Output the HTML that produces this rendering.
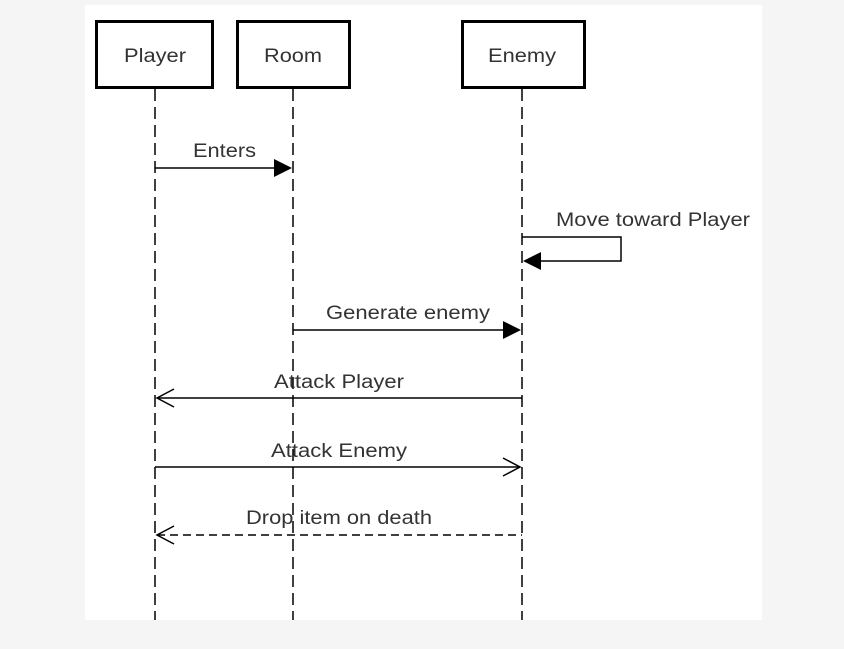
<!DOCTYPE html>
<html><head><style>body{margin:0;background:#f5f5f5;width:844px;height:649px;overflow:hidden}svg{display:block}</style></head><body>
<svg width="844" height="649" xmlns="http://www.w3.org/2000/svg" font-family="Liberation Sans, sans-serif" font-size="19" fill="#333">
<rect x="0" y="0" width="844" height="649" fill="#f5f5f5"/>
<rect x="85" y="5" width="677" height="615" fill="#fff"/>
<g fill="#fff" stroke="#000" stroke-width="3">
<rect x="96.5" y="21.5" width="116" height="66"/>
<rect x="237.5" y="21.5" width="112" height="66"/>
<rect x="462.5" y="21.5" width="122" height="66"/>
</g>
<g stroke="#000" stroke-width="1.5" stroke-dasharray="12,6">
<line x1="155" y1="89" x2="155" y2="620"/>
<line x1="293" y1="89" x2="293" y2="620"/>
<line x1="522" y1="89" x2="522" y2="620"/>
</g>
<g stroke="#000" stroke-width="1.5" fill="none">
<line x1="155" y1="168" x2="276" y2="168"/>
<polyline points="522,237 621,237 621,261 540,261"/>
<line x1="293" y1="330" x2="505" y2="330"/>
<line x1="157" y1="398" x2="522" y2="398"/>
<polyline points="174,389 157,398 174,407"/>
<line x1="155" y1="467" x2="520" y2="467"/>
<polyline points="503,458 520,467 503,476"/>
<line x1="157" y1="535" x2="522" y2="535" stroke-dasharray="8,5"/>
<polyline points="174,526 157,535 174,544"/>
</g>
<g fill="#000">
<polygon points="274,159 292,168 274,177"/>
<polygon points="541,252 523,261 541,270"/>
<polygon points="503,321 521,330 503,339"/>
</g>
<g lengthAdjust="spacingAndGlyphs">
<text x="124" y="62" textLength="62" lengthAdjust="spacingAndGlyphs">Player</text>
<text x="264" y="62" textLength="58" lengthAdjust="spacingAndGlyphs">Room</text>
<text x="488" y="62" textLength="68" lengthAdjust="spacingAndGlyphs">Enemy</text>
<text x="193" y="157" textLength="63" lengthAdjust="spacingAndGlyphs">Enters</text>
<text x="556" y="226" textLength="194" lengthAdjust="spacingAndGlyphs">Move toward Player</text>
<text x="326" y="319" textLength="164" lengthAdjust="spacingAndGlyphs">Generate enemy</text>
<text x="274" y="388" textLength="130" lengthAdjust="spacingAndGlyphs">Attack Player</text>
<text x="271" y="457" textLength="136" lengthAdjust="spacingAndGlyphs">Attack Enemy</text>
<text x="246" y="524" textLength="186" lengthAdjust="spacingAndGlyphs">Drop item on death</text>
</g>
</svg>
</body></html>
